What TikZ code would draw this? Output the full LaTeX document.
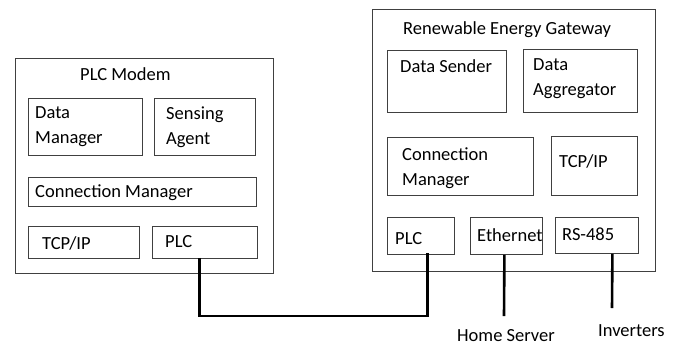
\documentclass[tikz,border=0pt]{standalone}
\usepackage{fontspec}
\setmainfont{Carlito}
\begin{document}
\begin{tikzpicture}[x=1bp,y=-1bp,
  box/.style={draw=black!75, line width=0.8bp, inner sep=0pt, anchor=north west},
  txt/.style={inner sep=0pt, anchor=base west, font=\fontsize{18.5bp}{24bp}\selectfont},
  mtxt/.style={inner sep=0pt, anchor=north west, align=left, font=\fontsize{18.5bp}{25bp}\selectfont},
  conn/.style={draw=black, line width=2.6bp}]
\useasboundingbox[fill=white] (0,0) rectangle (678,346);
% ---- PLC Modem ----
\node[box, minimum width=258bp, minimum height=215bp] (modem) at (15,58) {};
\node[txt] (modemt) at (80,80) {PLC Modem};
\node[box, minimum width=114bp, minimum height=57bp] (ldm) at (28,98) {};
\node[mtxt] (ldmt) at (35,106) {Data\\Manager};
\node[box, minimum width=101bp, minimum height=57bp] (lsa) at (154,98) {};
\node[mtxt] (lsat) at (166,107) {Sensing\\Agent};
\node[box, minimum width=228bp, minimum height=29bp] (lcm) at (28,177) {};
\node[txt] (lcmt) at (35,197) {Connection Manager};
\node[box, minimum width=111bp, minimum height=32bp] (ltcp) at (28,226) {};
\node[txt] (ltcpt) at (42,249) {TCP/IP};
\node[box, minimum width=105bp, minimum height=32bp] (lplc) at (152,226) {};
\node[txt] (lplct) at (165,247) {PLC};
% ---- Renewable Energy Gateway ----
\node[box, minimum width=283bp, minimum height=262bp] (gw) at (372,9) {};
\node[txt] (gwt) at (403,34) {Renewable Energy Gateway};
\node[box, minimum width=119bp, minimum height=62bp] (rds) at (387,50) {};
\node[txt] (rdst) at (400,72) {Data Sender};
\node[box, minimum width=114bp, minimum height=63bp] (rda) at (523,49) {};
\node[mtxt] (rdat) at (533,58) {Data\\Aggregator};
\node[box, minimum width=146bp, minimum height=58bp] (rcm) at (387,137) {};
\node[mtxt] (rcmt) at (402,148) {Connection\\Manager};
\node[box, minimum width=86bp, minimum height=59bp] (rtcp) at (551,136) {};
\node[txt] (rtcpt) at (559,167) {TCP/IP};
\node[box, minimum width=67bp, minimum height=37bp] (rplc) at (387,217) {};
\node[txt] (rplct) at (395,244) {PLC};
\node[box, minimum width=72bp, minimum height=37bp] (reth) at (470,217) {};
\node[txt] (retht) at (477,241) {Ethernet};
\node[box, minimum width=83bp, minimum height=36bp] (rrs) at (555,217) {};
\node[txt] (rrst) at (562,240) {RS-485};
% ---- external labels ----
\node[txt] (hs) at (457,341) {Home Server};
\node[txt] (inv) at (598,336) {Inverters};
\coordinate (hsend) at (504,316);
\coordinate (invend) at (612,308);
% ---- connectors ----
\draw[conn] ([xshift=-5.5bp,yshift=1bp]lplc.south) -- ++(0,58) -| ([xshift=6.5bp,yshift=2bp]rplc.south);
\draw[conn] ([xshift=-2bp]reth.south) -- (hsend);
\draw[conn] ([xshift=15.5bp]rrs.south) -- (invend);
\end{tikzpicture}
\end{document}
